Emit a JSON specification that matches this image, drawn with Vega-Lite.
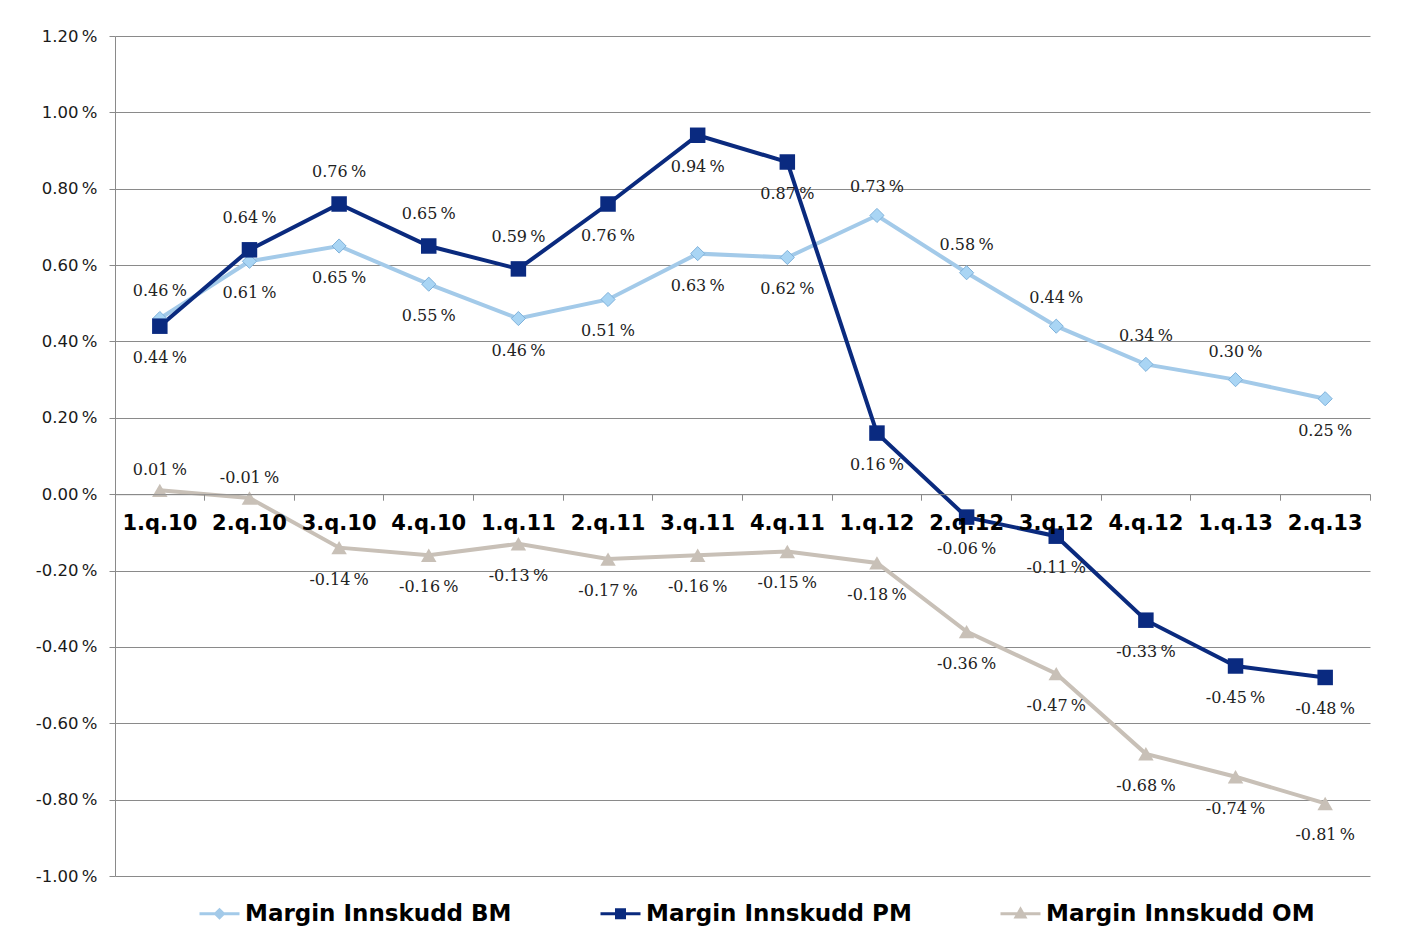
{
  "$schema": "https://vega.github.io/schema/vega-lite/v6.json",
  "autosize": "none",
  "width": 1255,
  "height": 840,
  "padding": {"left": 115, "top": 36, "right": 42, "bottom": 71},
  "background": "white",
  "config": {
    "view": {"stroke": null},
    "locale": {"number": {"decimal": ".", "thousands": ",", "grouping": [3], "currency": ["", ""], "minus": "-"}},
    "axis": {"domainColor": "#8a8a8a", "tickColor": "#8a8a8a", "gridColor": "#8a8a8a", "domainWidth": 1, "tickWidth": 1, "gridWidth": 1}
  },
  "data": {"values": [
    {"q": "1.q.10", "s": "Margin Innskudd BM", "v": 0.46},
    {"q": "2.q.10", "s": "Margin Innskudd BM", "v": 0.61},
    {"q": "3.q.10", "s": "Margin Innskudd BM", "v": 0.65},
    {"q": "4.q.10", "s": "Margin Innskudd BM", "v": 0.55},
    {"q": "1.q.11", "s": "Margin Innskudd BM", "v": 0.46},
    {"q": "2.q.11", "s": "Margin Innskudd BM", "v": 0.51},
    {"q": "3.q.11", "s": "Margin Innskudd BM", "v": 0.63},
    {"q": "4.q.11", "s": "Margin Innskudd BM", "v": 0.62},
    {"q": "1.q.12", "s": "Margin Innskudd BM", "v": 0.73},
    {"q": "2.q.12", "s": "Margin Innskudd BM", "v": 0.58},
    {"q": "3.q.12", "s": "Margin Innskudd BM", "v": 0.44},
    {"q": "4.q.12", "s": "Margin Innskudd BM", "v": 0.34},
    {"q": "1.q.13", "s": "Margin Innskudd BM", "v": 0.30},
    {"q": "2.q.13", "s": "Margin Innskudd BM", "v": 0.25},
    {"q": "1.q.10", "s": "Margin Innskudd PM", "v": 0.44},
    {"q": "2.q.10", "s": "Margin Innskudd PM", "v": 0.64},
    {"q": "3.q.10", "s": "Margin Innskudd PM", "v": 0.76},
    {"q": "4.q.10", "s": "Margin Innskudd PM", "v": 0.65},
    {"q": "1.q.11", "s": "Margin Innskudd PM", "v": 0.59},
    {"q": "2.q.11", "s": "Margin Innskudd PM", "v": 0.76},
    {"q": "3.q.11", "s": "Margin Innskudd PM", "v": 0.94},
    {"q": "4.q.11", "s": "Margin Innskudd PM", "v": 0.87},
    {"q": "1.q.12", "s": "Margin Innskudd PM", "v": 0.16},
    {"q": "2.q.12", "s": "Margin Innskudd PM", "v": -0.06},
    {"q": "3.q.12", "s": "Margin Innskudd PM", "v": -0.11},
    {"q": "4.q.12", "s": "Margin Innskudd PM", "v": -0.33},
    {"q": "1.q.13", "s": "Margin Innskudd PM", "v": -0.45},
    {"q": "2.q.13", "s": "Margin Innskudd PM", "v": -0.48},
    {"q": "1.q.10", "s": "Margin Innskudd OM", "v": 0.01},
    {"q": "2.q.10", "s": "Margin Innskudd OM", "v": -0.01},
    {"q": "3.q.10", "s": "Margin Innskudd OM", "v": -0.14},
    {"q": "4.q.10", "s": "Margin Innskudd OM", "v": -0.16},
    {"q": "1.q.11", "s": "Margin Innskudd OM", "v": -0.13},
    {"q": "2.q.11", "s": "Margin Innskudd OM", "v": -0.17},
    {"q": "3.q.11", "s": "Margin Innskudd OM", "v": -0.16},
    {"q": "4.q.11", "s": "Margin Innskudd OM", "v": -0.15},
    {"q": "1.q.12", "s": "Margin Innskudd OM", "v": -0.18},
    {"q": "2.q.12", "s": "Margin Innskudd OM", "v": -0.36},
    {"q": "3.q.12", "s": "Margin Innskudd OM", "v": -0.47},
    {"q": "4.q.12", "s": "Margin Innskudd OM", "v": -0.68},
    {"q": "1.q.13", "s": "Margin Innskudd OM", "v": -0.74},
    {"q": "2.q.13", "s": "Margin Innskudd OM", "v": -0.81}
  ]},
  "transform": [{"calculate": "format(datum.v, '.2f') + '\u2009%'", "as": "lbl"}],
  "encoding": {
    "x": {
      "field": "q", "type": "ordinal",
      "sort": ["1.q.10","2.q.10","3.q.10","4.q.10","1.q.11","2.q.11","3.q.11","4.q.11","1.q.12","2.q.12","3.q.12","4.q.12","1.q.13","2.q.13"],
      "scale": {"type": "band", "paddingInner": 0, "paddingOuter": 0},
      "axis": {
        "title": null, "labelAngle": 0, "offset": -381.8, "bandPosition": 1, "tickExtra": true,
        "tickSize": 6, "labelPadding": 12,
        "labelFont": "DejaVu Sans", "labelFontWeight": "bold", "labelFontSize": 21, "labelColor": "#000000",
        "grid": false, "zindex": 1
      }
    },
    "y": {
      "field": "v", "type": "quantitative",
      "scale": {"domain": [-1.0, 1.2], "nice": false, "zero": false},
      "axis": {
        "title": null,
        "values": [-1.0, -0.8, -0.6, -0.4, -0.2, 0, 0.2, 0.4, 0.6, 0.8, 1.0, 1.2],
        "labelExpr": "format(datum.value, '.2f') + '\u2009%'",
        "tickSize": 6, "labelPadding": 12, "grid": true,
        "labelFont": "DejaVu Sans", "labelFontSize": 16.5, "labelColor": "#1a1a1a"
      }
    }
  },
  "layer": [
    {
      "mark": {"type": "line", "strokeWidth": 4},
      "encoding": {
        "color": {
          "field": "s", "type": "nominal",
          "scale": {"domain": ["Margin Innskudd BM", "Margin Innskudd PM", "Margin Innskudd OM"], "range": ["#A3CAE9", "#0A2A7E", "#C8C0B7"]},
          "legend": {
            "title": null, "orient": "none", "legendX": 83, "legendY": 856, "direction": "horizontal",
            "symbolSize": 1600, "labelFont": "DejaVu Sans", "labelFontWeight": "bold", "labelFontSize": 23, "labelColor": "#000000",
            "columnPadding": 82, "labelOffset": 4, "labelLimit": 500, "symbolStrokeWidth": 3,
            "encode": {"symbols": {"update": {"stroke": {"scale": "color", "field": "value"}, "fill": {"scale": "color", "field": "value"}, "strokeWidth": {"value": 3}, "opacity": {"value": 1}}}}
          }
        }
      }
    },
    {
      "transform": [{"filter": {"field": "s", "equal": "Margin Innskudd BM"}}],
      "mark": {"type": "point", "shape": "diamond", "filled": true, "fill": "#A9D5F4", "stroke": "#7FB2DB", "strokeWidth": 1, "size": 200, "opacity": 1}
    },
    {
      "transform": [{"filter": {"field": "s", "equal": "Margin Innskudd PM"}}],
      "mark": {"type": "square", "color": "#0A2A80", "size": 240, "opacity": 1}
    },
    {
      "transform": [{"filter": {"field": "s", "equal": "Margin Innskudd OM"}}],
      "mark": {"type": "point", "shape": "triangle-up", "filled": true, "color": "#C8C0B7", "size": 240, "opacity": 1}
    },
    {
      "mark": {"type": "point", "filled": true, "opacity": 0},
      "encoding": {
        "color": {
          "field": "s", "type": "nominal",
          "scale": {"domain": ["Margin Innskudd BM", "Margin Innskudd PM", "Margin Innskudd OM"], "range": ["#A3CAE9", "#0A2A7E", "#C8C0B7"]},
          "legend": {
            "title": null, "orient": "none", "legendX": 83, "legendY": 856, "direction": "horizontal",
            "symbolSize": 1600, "labelFont": "DejaVu Sans", "labelFontWeight": "bold", "labelFontSize": 23, "labelColor": "#000000",
            "columnPadding": 82, "labelOffset": 4, "labelLimit": 500, "symbolStrokeWidth": 3,
            "encode": {"symbols": {"update": {"stroke": {"scale": "color", "field": "value"}, "fill": {"scale": "color", "field": "value"}, "strokeWidth": {"value": 3}, "opacity": {"value": 1}}}}
          }
        },
        "shape": {
          "field": "s", "type": "nominal",
          "scale": {"domain": ["Margin Innskudd BM", "Margin Innskudd PM", "Margin Innskudd OM"],
                    "range": ["M-1,0L1,0M-0.2,0L0,-0.2L0.2,0L0,0.2Z", "M-1,0L1,0M-0.2,-0.2L0.2,-0.2L0.2,0.2L-0.2,0.2Z", "M-1,0L1,0M-0.22,0.16L0,-0.22L0.22,0.16Z"]},
          "legend": {
            "title": null, "orient": "none", "legendX": 83, "legendY": 856, "direction": "horizontal",
            "symbolSize": 1600, "labelFont": "DejaVu Sans", "labelFontWeight": "bold", "labelFontSize": 23, "labelColor": "#000000",
            "columnPadding": 82, "labelOffset": 4, "labelLimit": 500, "symbolStrokeWidth": 3,
            "encode": {"symbols": {"update": {"stroke": {"scale": "color", "field": "value"}, "fill": {"scale": "color", "field": "value"}, "strokeWidth": {"value": 3}, "opacity": {"value": 1}}}}
          }
        }
      }
    },
    {
      "transform": [{"filter": {"and": [{"field": "s", "equal": "Margin Innskudd BM"}, {"field": "q", "oneOf": ["1.q.10","1.q.12","2.q.12","3.q.12","4.q.12","1.q.13"]}]}}],
      "mark": {"type": "text", "dy": -28, "font": "DejaVu Serif", "fontSize": 16, "color": "#222222"},
      "encoding": {"text": {"field": "lbl"}}
    },
    {
      "transform": [{"filter": {"and": [{"field": "s", "equal": "Margin Innskudd BM"}, {"not": {"field": "q", "oneOf": ["1.q.10","1.q.12","2.q.12","3.q.12","4.q.12","1.q.13"]}}]}}],
      "mark": {"type": "text", "dy": 32, "font": "DejaVu Serif", "fontSize": 16, "color": "#222222"},
      "encoding": {"text": {"field": "lbl"}}
    },
    {
      "transform": [{"filter": {"and": [{"field": "s", "equal": "Margin Innskudd PM"}, {"field": "q", "oneOf": ["2.q.10","3.q.10","4.q.10","1.q.11"]}]}}],
      "mark": {"type": "text", "dy": -32, "font": "DejaVu Serif", "fontSize": 16, "color": "#222222"},
      "encoding": {"text": {"field": "lbl"}}
    },
    {
      "transform": [{"filter": {"and": [{"field": "s", "equal": "Margin Innskudd PM"}, {"not": {"field": "q", "oneOf": ["2.q.10","3.q.10","4.q.10","1.q.11"]}}]}}],
      "mark": {"type": "text", "dy": 32, "font": "DejaVu Serif", "fontSize": 16, "color": "#222222"},
      "encoding": {"text": {"field": "lbl"}}
    },
    {
      "transform": [{"filter": {"and": [{"field": "s", "equal": "Margin Innskudd OM"}, {"field": "q", "oneOf": ["1.q.10","2.q.10"]}]}}],
      "mark": {"type": "text", "dy": -20, "font": "DejaVu Serif", "fontSize": 16, "color": "#222222"},
      "encoding": {"text": {"field": "lbl"}}
    },
    {
      "transform": [{"filter": {"and": [{"field": "s", "equal": "Margin Innskudd OM"}, {"not": {"field": "q", "oneOf": ["1.q.10","2.q.10"]}}]}}],
      "mark": {"type": "text", "dy": 32, "font": "DejaVu Serif", "fontSize": 16, "color": "#222222"},
      "encoding": {"text": {"field": "lbl"}}
    }
  ]
}
